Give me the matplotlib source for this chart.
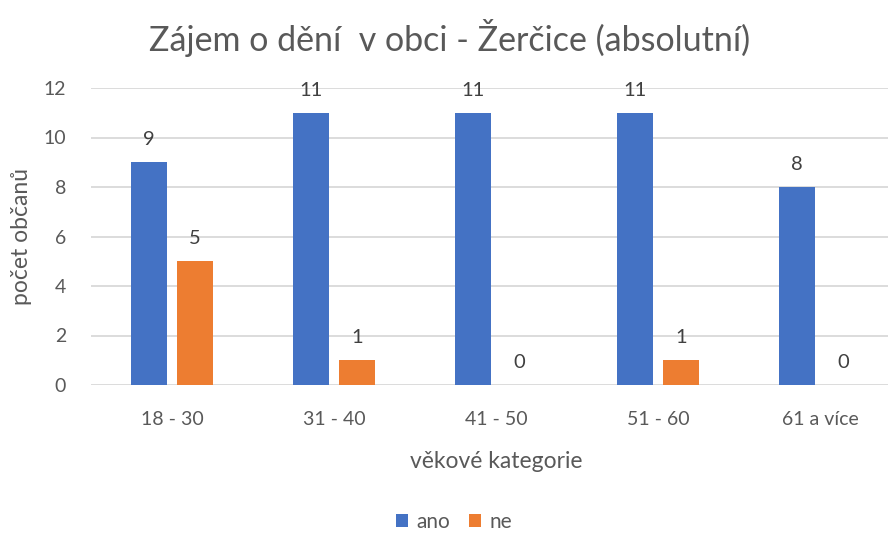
import numpy as np
from matplotlib import pyplot as plt

plt.rcParams['font.family'] = ['Lato', 'DejaVu Sans']

categories = ["18 - 30", "31 - 40", "41 - 50", "51 - 60", "61 a více"]
ano = [9, 11, 11, 11, 8]
ne = [5, 1, 0, 1, 0]
yticks = [0, 2, 4, 6, 8, 10, 12]

text_color = "#595959"
grid_color = "#D9D9D9"

fig = plt.figure(figsize=(8.88, 5.36), dpi=100)
ax = fig.add_axes([91 / 888, 151 / 536, 810 / 888, 297 / 536])

x = np.arange(len(categories))
width = 36 / 162
offset = 23 / 162
bars_ano = ax.bar(x - offset, ano, width, color="#4472C4", label="ano", zorder=3)
bars_ne = ax.bar(x + offset, ne, width, color="#ED7D31", label="ne", zorder=3)

for bars in (bars_ano, bars_ne):
    for b in bars:
        ax.annotate(str(int(b.get_height())), (b.get_x() + b.get_width() / 2, b.get_height()),
                    xytext=(0, 10), textcoords="offset points", ha="center", va="bottom",
                    fontsize=14.5, color="#404040")

ax.set_xlim(-0.5, len(categories) - 0.5)
ax.set_ylim(0, 12)
ax.set_yticks(yticks)
ax.set_xticks(x)
ax.set_xticklabels(categories)
ax.tick_params(axis="both", length=0, labelsize=14, colors=text_color)
ax.tick_params(axis="x", pad=19)
ax.tick_params(axis="y", pad=18)
ax.grid(axis="y", color=grid_color, linewidth=1.3, zorder=0)
for s in ax.spines.values():
    s.set_visible(False)

ax.set_xlabel("věkové kategorie", fontsize=16.5, color=text_color, labelpad=16)
ax.set_ylabel("počet občanů", fontsize=16.5, color=text_color, labelpad=8)

fig.text(450 / 888, 1 - 38 / 536, "Zájem o dění  v obci - Žerčice (absolutní)",
         ha="center", va="center", fontsize=24.5, color=text_color)

fig.legend(handles=[bars_ano, bars_ne], labels=["ano", "ne"], loc="center",
           bbox_to_anchor=(454 / 888, 1 - 522 / 536), ncol=2, frameon=False,
           fontsize=15, labelcolor=text_color, handlelength=0.6, handleheight=0.6,
           handletextpad=0.4, columnspacing=0.9)

fig.savefig("out.png", dpi=100)
